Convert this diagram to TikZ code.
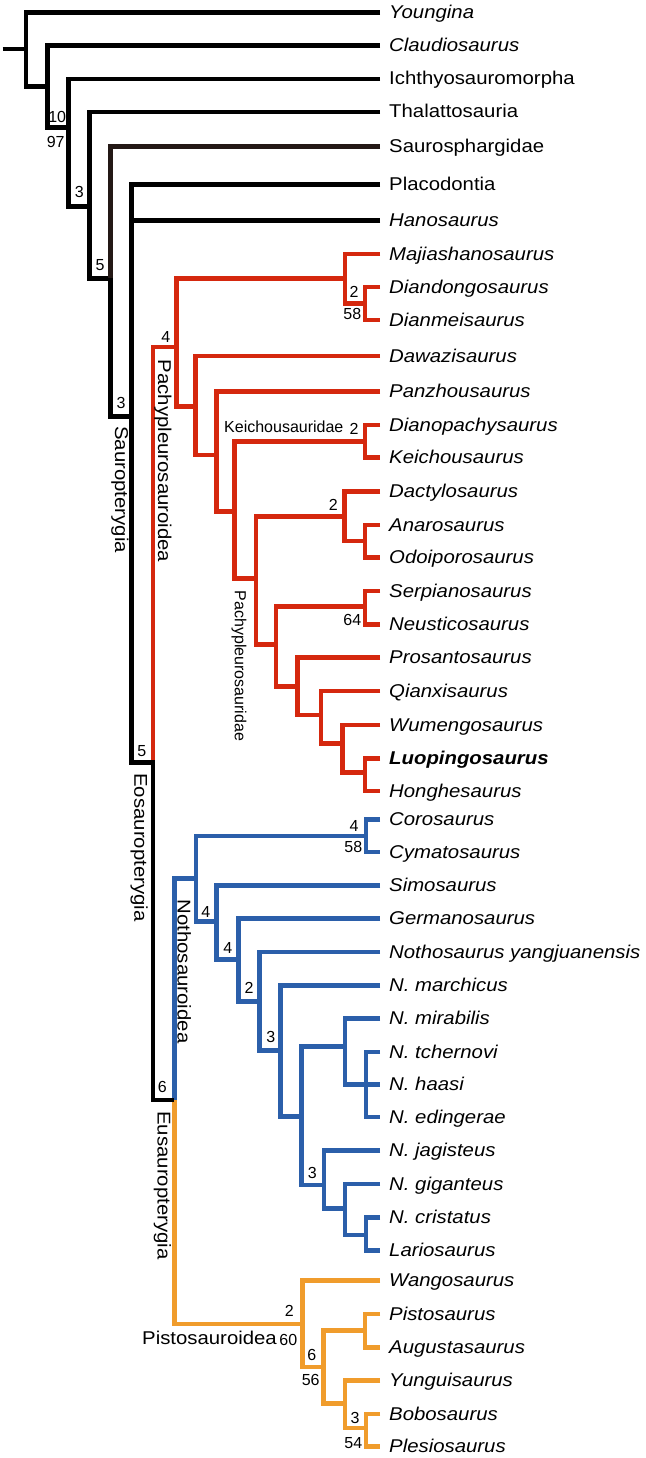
\documentclass[tikz,border=0pt]{standalone}
\usepackage{fontspec}
\setmainfont{Liberation Sans}[FakeStretch=1.1]
\newfontfamily\numfont{Liberation Sans}
\definecolor{cred}{RGB}{213,40,14}
\definecolor{cblue}{RGB}{43,95,170}
\definecolor{corange}{RGB}{240,156,44}
\definecolor{cdark}{RGB}{35,24,21}
\begin{document}
\begin{tikzpicture}[x=1pt,y=-1pt,
  br/.style={line width=4.5pt, line join=miter},
  kbr/.style={br, draw=black},
  rbr/.style={br, draw=cred},
  rthin/.style={line width=3.8pt, line join=miter, draw=cred},
  bbr/.style={br, draw=cblue},
  obr/.style={br, draw=corange},
  leaf/.style={anchor=west, inner xsep=9pt, inner ysep=0pt, text height=12pt, text depth=0pt, font=\fontsize{18.5}{20}\selectfont\itshape},
  leafu/.style={leaf, font=\fontsize{18.5}{20}\selectfont},
  num/.style={inner sep=0pt, font=\numfont\fontsize{16}{18}\selectfont},
  clade/.style={inner sep=0pt, rotate=-90, font=\fontsize{18.5}{20}\selectfont},
  sclade/.style={inner sep=0pt, rotate=-90, font=\numfont\fontsize{16}{18}\selectfont}]
\fill[white] (0,0) rectangle (645,1458);
\useasboundingbox (0,0) rectangle (645,1458);
% internal nodes
\coordinate (base) at (2.7,49);
\coordinate (R) at (26,49);
\coordinate (A) at (47.3,86.7);
\coordinate (B) at (68.7,127.7);
\coordinate (C) at (89.3,206.7);
\coordinate (D) at (110.7,278.3);
\coordinate (E) at (131.7,416.7);
\coordinate (F) at (152.8,762.3);
\coordinate (P) at (176.7,346.7);
\coordinate (M) at (345,278.3);
\coordinate (M2) at (365,303.3);
\coordinate (Q) at (195.5,406.7);
\coordinate (S) at (216.7,455);
\coordinate (T) at (234.3,511.7);
\coordinate (K) at (365,441.7);
\coordinate (U) at (256,578.3);
\coordinate (V) at (344.3,516.7);
\coordinate (V2) at (365,541);
\coordinate (W) at (276,644.3);
\coordinate (X) at (365,606.7);
\coordinate (Y) at (297.7,686.7);
\coordinate (Z) at (321,715);
\coordinate (Z2) at (342.7,743.3);
\coordinate (Z3) at (365,772.7);
\coordinate (G) at (174.3,1100);
\coordinate (N) at (196,878.3);
\coordinate (N1) at (366,836);
\coordinate (N2) at (216.7,921.7);
\coordinate (N3) at (238.3,959.3);
\coordinate (N4) at (259.3,1001.7);
\coordinate (N5) at (280.5,1050.5);
\coordinate (N6) at (301.7,1116.7);
\coordinate (N7) at (345,1046.7);
\coordinate (N8) at (366,1084.5);
\coordinate (N9) at (324,1185);
\coordinate (N10) at (345,1208.3);
\coordinate (N11) at (366,1235);
\coordinate (O) at (302.7,1324);
\coordinate (O2) at (323.3,1367);
\coordinate (O3) at (365,1330.3);
\coordinate (O4) at (345,1403.7);
\coordinate (O5) at (366,1428);
% leaves
\node[leaf] (L1) at (380,12.7) {Youngina};
\node[leaf] (L2) at (380,45.7) {Claudiosaurus};
\node[leafu] (L3) at (380,79) {Ichthyosauromorpha};
\node[leafu] (L4) at (380,112) {Thalattosauria};
\node[leafu] (L5) at (380,146.7) {Saurosphargidae};
\node[leafu] (L6) at (380,184.3) {Placodontia};
\node[leaf] (L7) at (380,220.3) {Hanosaurus};
\node[leaf] (L8) at (380,254) {Majiashanosaurus};
\node[leaf] (L9) at (380,287) {Diandongosaurus};
\node[leaf] (L10) at (380,320) {Dianmeisaurus};
\node[leaf] (L11) at (380,356) {Dawazisaurus};
\node[leaf] (L12) at (380,391.7) {Panzhousaurus};
\node[leaf] (L13) at (380,425) {Dianopachysaurus};
\node[leaf] (L14) at (380,457.7) {Keichousaurus};
\node[leaf] (L15) at (380,491.7) {Dactylosaurus};
\node[leaf] (L16) at (380,525) {Anarosaurus};
\node[leaf] (L17) at (380,557.7) {Odoiporosaurus};
\node[leaf] (L18) at (380,591) {Serpianosaurus};
\node[leaf] (L19) at (380,624.3) {Neusticosaurus};
\node[leaf] (L20) at (380,657.7) {Prosantosaurus};
\node[leaf] (L21) at (380,691) {Qianxisaurus};
\node[leaf] (L22) at (380,725) {Wumengosaurus};
\node[leaf, font=\fontsize{18.5}{20}\selectfont\bfseries\itshape] (L23) at (380,758.3) {Luopingosaurus};
\node[leaf] (L24) at (380,791) {Honghesaurus};
\node[leaf] (L25) at (380,819.3) {Corosaurus};
\node[leaf] (L26) at (380,852) {Cymatosaurus};
\node[leaf] (L27) at (380,885.3) {Simosaurus};
\node[leaf] (L28) at (380,918.7) {Germanosaurus};
\node[leaf] (L29) at (380,952) {Nothosaurus yangjuanensis};
\node[leaf] (L30) at (380,985.3) {N. marchicus};
\node[leaf] (L31) at (380,1018.7) {N. mirabilis};
\node[leaf] (L32) at (380,1052) {N. tchernovi};
\node[leaf] (L33) at (380,1084.5) {N. haasi};
\node[leaf] (L34) at (380,1117) {N. edingerae};
\node[leaf] (L35) at (380,1150.7) {N. jagisteus};
\node[leaf] (L36) at (380,1184) {N. giganteus};
\node[leaf] (L37) at (380,1217.3) {N. cristatus};
\node[leaf] (L38) at (380,1250.7) {Lariosaurus};
\node[leaf] (L39) at (380,1280.7) {Wangosaurus};
\node[leaf] (L40) at (380,1314) {Pistosaurus};
\node[leaf] (L41) at (380,1347.3) {Augustasaurus};
\node[leaf] (L42) at (380,1380.7) {Yunguisaurus};
\node[leaf] (L43) at (380,1414) {Bobosaurus};
\node[leaf] (L44) at (380,1446.3) {Plesiosaurus};
% red clade
\draw[rthin] (P) -| (F);
\draw[rbr] (M) -| (P) |- (Q);
\draw[rbr] (L8.west) -| (M) |- (M2);
\draw[rbr] (L9.west) -| (M2) |- (L10.west);
\draw[rbr] (L11.west) -| (Q) |- (S);
\draw[rbr] (L12.west) -| (S) |- (T);
\draw[rbr] (K) -| (T) |- (U);
\draw[rbr] (L13.west) -| (K) |- (L14.west);
\draw[rbr] (V) -| (U) |- (W);
\draw[rbr] (L15.west) -| (V) |- (V2);
\draw[rbr] (L16.west) -| (V2) |- (L17.west);
\draw[rbr] (X) -| (W) |- (Y);
\draw[rbr] (L18.west) -| (X) |- (L19.west);
\draw[rbr] (L20.west) -| (Y) |- (Z);
\draw[rbr] (L21.west) -| (Z) |- (Z2);
\draw[rbr] (L22.west) -| (Z2) |- (Z3);
\draw[rbr] (L23.west) -| (Z3) |- (L24.west);
% blue clade
\draw[bbr] (N) -| (G);
\draw[bbr] (N1) -| (N) |- (N2);
\draw[bbr] (L25.west) -| (N1) |- (L26.west);
\draw[bbr] (L27.west) -| (N2) |- (N3);
\draw[bbr] (L28.west) -| (N3) |- (N4);
\draw[bbr] (L29.west) -| (N4) |- (N5);
\draw[bbr] (L30.west) -| (N5) |- (N6);
\draw[bbr] (N7) -| (N6) |- (N9);
\draw[bbr] (L31.west) -| (N7) |- (N8);
\draw[bbr] (L32.west) -| (N8) |- (L34.west);
\draw[bbr] (N8) -- (L33.west);
\draw[bbr] (L35.west) -| (N9) |- (N10);
\draw[bbr] (L36.west) -| (N10) |- (N11);
\draw[bbr] (L37.west) -| (N11) |- (L38.west);
% orange clade
\draw[obr] (G) |- (O);
\draw[obr] (L39.west) -| (O) |- (O2);
\draw[obr] (O3) -| (O2) |- (O4);
\draw[obr] (L40.west) -| (O3) |- (L41.west);
\draw[obr] (L42.west) -| (O4) |- (O5);
\draw[obr] (L43.west) -| (O5) |- (L44.west);
% black backbone
\draw[kbr] (base) -- (R);
\draw[kbr] (L1.west) -| (R) |- (A);
\draw[kbr] (L2.west) -| (A) |- (B);
\draw[kbr] (L3.west) -| (B) |- (C);
\draw[kbr] (L4.west) -| (C) |- (D);
\draw[br, draw=cdark] (L5.west) -| (D);
\draw[kbr] (D) |- (E);
\draw[kbr] (L6.west) -| (E) |- (F) |- (G);
\draw[kbr] (L7.west) -- (L7.west -| E);
% support values
\node[num] (s1) at (57.2,117.3) {10};
\node[num] (s2) at (55.7,141.7) {97};
\node[num] (s3) at (79.3,191.7) {3};
\node[num] (s4) at (100,265) {5};
\node[num] (s5) at (121,403.3) {3};
\node[num] (s6) at (165.7,336.7) {4};
\node[num] (s7) at (354,291.7) {2};
\node[num] (s8) at (352.3,314) {58};
\node[num] (s9) at (354,429) {2};
\node[num] (s10) at (333.3,505) {2};
\node[num] (s11) at (352.3,620) {64};
\node[num] (s12) at (141.7,750.7) {5};
\node[num] (s13) at (354,825.7) {4};
\node[num] (s14) at (353.3,847.3) {58};
\node[num] (s15) at (205.7,911.7) {4};
\node[num] (s16) at (227.7,948.3) {4};
\node[num] (s17) at (249,988.3) {2};
\node[num] (s18) at (270.7,1036.7) {3};
\node[num] (s19) at (312.3,1173.3) {3};
\node[num] (s20) at (162.3,1086.7) {6};
\node[num] (s21) at (289.3,1311.3) {2};
\node[num] (s22) at (288.3,1339.7) {60};
\node[num] (s23) at (311.7,1354.7) {6};
\node[num] (s24) at (310.7,1380.3) {56};
\node[num] (s25) at (355,1418) {3};
\node[num] (s26) at (353.3,1443) {54};
% clade names
\node[clade] (sauro) at (120,489.5) {Sauropterygia};
\node[clade] (pachy) at (162.8,461) {Pachypleurosauroidea};
\node[sclade] (pachyd) at (239,666) {Pachypleurosauridae};
\node[clade] (eos) at (139.2,847.5) {Eosauropterygia};
\node[clade] (notho) at (184.2,971.5) {Nothosauroidea};
\node[clade] (eus) at (162.5,1185.5) {Eusauropterygia};
\node[inner sep=0pt, anchor=base east, font=\fontsize{18.5}{20}\selectfont] (pisto) at (277,1344.7) {Pistosauroidea};
\node[inner sep=0pt, anchor=base west, font=\numfont\fontsize{16}{18}\selectfont] (keich) at (224,432.7) {Keichousauridae};
\end{tikzpicture}
\end{document}
